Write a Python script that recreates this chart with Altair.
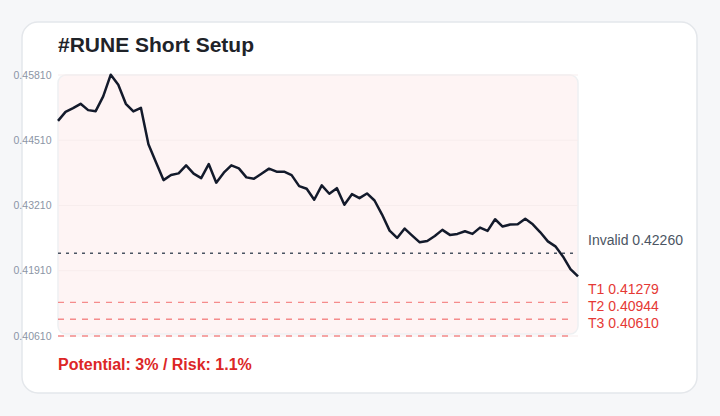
import altair as alt
import pandas as pd

title_text = "#RUNE Short Setup"
footer_text = "Potential: 3% / Risk: 1.1%"

prices = [
    0.44896, 0.45076, 0.45150, 0.45236, 0.45110, 0.45090, 0.45384, 0.45816, 0.45616, 0.45236,
    0.45084, 0.45156, 0.44430, 0.44070, 0.43716, 0.43816, 0.43850, 0.44010, 0.43844, 0.43756,
    0.44036, 0.43664, 0.43864, 0.44010, 0.43950, 0.43770, 0.43744, 0.43844, 0.43944, 0.43884,
    0.43884, 0.43816, 0.43596, 0.43544, 0.43324, 0.43610, 0.43444, 0.43556, 0.43224, 0.43436,
    0.43356, 0.43450, 0.43310, 0.43030, 0.42710, 0.42564, 0.42750, 0.42610, 0.42476, 0.42504,
    0.42604, 0.42724, 0.42624, 0.42644, 0.42696, 0.42644, 0.42770, 0.42704, 0.42936, 0.42790,
    0.42830, 0.42836, 0.42944, 0.42836, 0.42676, 0.42496, 0.42396, 0.42196, 0.41944, 0.41796,
]
y_ticks = [0.4061, 0.4191, 0.4321, 0.4451, 0.4581]

invalid_value = [0.4226]
invalid_label = ["Invalid 0.42260"]
target_values = [0.41279, 0.40944, 0.4061]
target_labels = ["T1 0.41279", "T2 0.40944", "T3 0.40610"]

W, H = 520, 261
FONT = "Arial"

line_df = pd.DataFrame({"i": list(range(len(prices))), "price": prices})
tick_df = pd.DataFrame({"price": y_ticks})
inv_df = pd.DataFrame({"price": invalid_value, "label": invalid_label})
tgt_df = pd.DataFrame({"price": target_values, "label": target_labels})
one = pd.DataFrame({"k": [0]})

yscale = alt.Scale(domain=[y_ticks[0], y_ticks[-1]], nice=False, zero=False)
xscale = alt.Scale(domain=[0, len(prices) - 1], nice=False, zero=False)
yaxis = alt.Axis(
    values=y_ticks, format=".5f", title=None, grid=False, domain=False,
    ticks=False, labelPadding=7, labelFontSize=10.5, labelFont=FONT,
    labelColor="#8b95a5", zindex=1,
)
Y = alt.Y("price:Q", scale=yscale, axis=yaxis)

card = alt.Chart(one).mark_rect(
    fill="white", stroke="#e4e7eb", strokeWidth=1.5, cornerRadius=16
).encode(x=alt.value(-36), x2=alt.value(639), y=alt.value(-53), y2=alt.value(318))

plot_bg = alt.Chart(one).mark_rect(
    fill="#fef4f4", stroke="#eef0f2", strokeWidth=1.5, cornerRadius=8
).encode(x=alt.value(0), x2=alt.value(W), y=alt.value(0), y2=alt.value(H - 2))

grid = alt.Chart(tick_df).mark_rule(color="#f7eded", strokeWidth=1).encode(
    y=Y, x=alt.value(0), x2=alt.value(W),
)

inv_rule = alt.Chart(inv_df).mark_rule(
    color="#4b5563", strokeWidth=1.5, strokeDash=[3, 5]
).encode(y=Y, x=alt.value(0), x2=alt.value(W - 5))

tgt_rule = alt.Chart(tgt_df).mark_rule(
    color="#ef4444", strokeOpacity=0.6, strokeWidth=1.3, strokeDash=[6, 6]
).encode(y=Y, x=alt.value(0), x2=alt.value(W - 5))

line = alt.Chart(line_df).mark_line(
    color="#131a2b", strokeWidth=2.5, strokeJoin="round"
).encode(x=alt.X("i:Q", scale=xscale, axis=None), y=Y)

inv_text = alt.Chart(inv_df).mark_text(
    align="left", baseline="alphabetic", dy=-8, fontSize=14, font=FONT, color="#4b5563"
).encode(y=Y, x=alt.value(530), text="label:N")

tgt_text = alt.Chart(tgt_df).mark_text(
    align="left", baseline="alphabetic", dy=-8, fontSize=14, font=FONT, color="#e53935"
).encode(y=Y, x=alt.value(530), text="label:N")

title = alt.Chart(one).mark_text(
    text=title_text, align="left", baseline="alphabetic", fontSize=21,
    fontWeight="bold", font=FONT, color="#1f2329"
).encode(x=alt.value(0), y=alt.value(-22.7))

footer = alt.Chart(one).mark_text(
    text=footer_text, align="left", baseline="alphabetic", fontSize=16,
    fontWeight="bold", font=FONT, color="#dc2626"
).encode(x=alt.value(0), y=alt.value(295))

chart = alt.layer(
    card, plot_bg, grid, inv_rule, tgt_rule, line, inv_text, tgt_text, title, footer
).properties(
    width=W, height=H,
    padding={"left": 58, "top": 75, "right": 720 - 58 - W, "bottom": 416 - 75 - H},
    autosize=alt.AutoSizeParams(type="none"),
    background="#f6f7f9",
).configure_view(strokeWidth=0)

chart.save("out.html", embed_options={"renderer": "svg", "actions": False})
